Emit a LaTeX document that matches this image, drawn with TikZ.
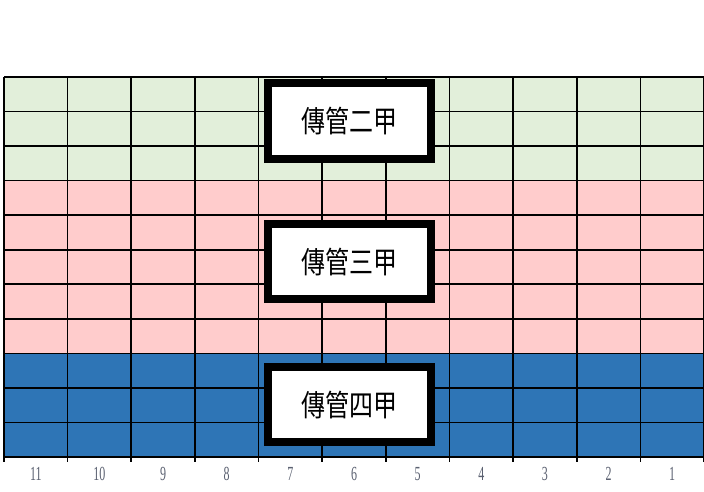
\documentclass[tikz,border=0pt]{standalone}
\usepackage{fontspec}
\setmainfont{Liberation Serif}
\newfontfamily\cjk{Noto Sans CJK TC}
\definecolor{gr}{HTML}{E2EFDA}
\definecolor{pk}{HTML}{FFCCCC}
\definecolor{bl}{HTML}{2E75B6}
\definecolor{lab}{HTML}{5A6070}
\begin{document}
\begin{tikzpicture}[x=1pt,y=1pt,
  gline/.style={line width=1.6pt,black},
  tagbox/.style={draw=black,line width=8pt,fill=white,minimum width=163pt,minimum height=75pt,inner sep=0pt,font=\cjk\fontsize{30}{30}\selectfont},
  collab/.style={font=\fontsize{20}{20}\selectfont,text=lab,inner sep=0pt}]
\useasboundingbox (0,0) rectangle (704,491);
\pgfmathsetmacro{\rh}{380/11}
\pgfmathsetmacro{\cw}{700/11}
% fills
\fill[gr] (4,414) rectangle (704,{414-3*\rh});
\fill[pk] (4,{414-3*\rh}) rectangle (704,{414-8*\rh});
\fill[bl] (4,{414-8*\rh}) rectangle (704,34);
% horizontal lines
\foreach \i in {0,...,11}{
  \draw[gline] (4,{414-\i*\rh}) -- (704,{414-\i*\rh});
}
% vertical lines
\foreach \j in {0,...,11}{
  \draw[gline] ({4+\j*\cw},414) -- ({4+\j*\cw},29);
}
% column labels
\foreach \j in {1,...,11}{
  \pgfmathtruncatemacro{\n}{12-\j}
  \node[collab] (c\n) at ({4+(\j-0.5)*\cw},17) {\scalebox{0.6}[1]{\n}};
}
% boxes
\node[tagbox] (b2) at (349.5,370) {\scalebox{0.8}[1]{傳管二甲}};
\node[tagbox] (b3) at (349.5,229.5) {\scalebox{0.8}[1]{傳管三甲}};
\node[tagbox] (b4) at (349.5,86.5) {\scalebox{0.8}[1]{傳管四甲}};
\end{tikzpicture}
\end{document}
